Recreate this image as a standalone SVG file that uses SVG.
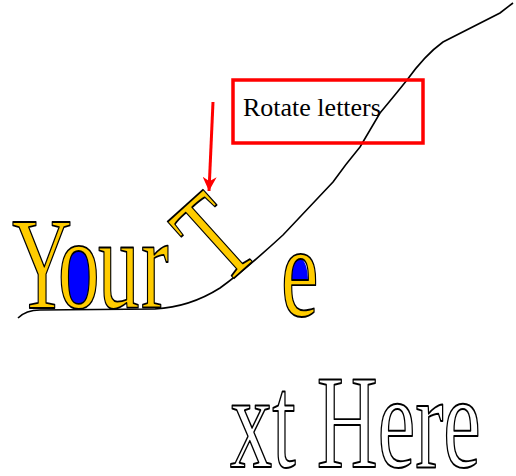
<svg xmlns="http://www.w3.org/2000/svg" width="516" height="476" viewBox="0 0 516 476">
<defs>
<style>
.wa{font-size:132px;fill:#FFCC00;stroke:#000;stroke-width:1.8;stroke-linejoin:round}
.out{font-size:134px;fill:#fff;stroke:#000;stroke-width:2;stroke-linejoin:round}
.lbl{font-size:26px;fill:#000}
.blue{fill:#0000FF}
</style>
<marker id="ah" markerWidth="14" markerHeight="14" refX="10" refY="5" orient="auto" markerUnits="userSpaceOnUse" viewBox="0 0 10 10">
<path d="M0,0 L10,5 L0,10 L3,5 Z" fill="#FF0000"/>
</marker>
</defs>
<rect width="516" height="476" fill="#fff"/>
<path id="curve" d="M18,318 Q26,310 40,310 L155,309 Q190,307 220,288 Q245,270 283,235 L333,182 Q345,165 360,147 L380,113 Q395,95 407,80 Q425,55 443,42 L500,13 L513,3" fill="none" stroke="#000" stroke-width="1.6"/>
<g id="word-your" font-family="'Liberation Serif', 'Times New Roman', serif">
<ellipse class="blue" cx="79" cy="279" rx="15" ry="30"/>
<text class="wa" transform="translate(12,308) scale(0.63,1)">Y</text>
<text class="wa" transform="translate(58,308) scale(0.63,1)">o</text>
<text class="wa" transform="translate(98,308) scale(0.63,1)">u</text>
<text class="wa" transform="translate(141,308) scale(0.63,1)">r</text>
</g>
<g id="letter-T" font-family="'Liberation Serif', 'Times New Roman', serif">
<text class="wa" text-anchor="middle" transform="translate(243,270) rotate(-42) scale(0.63,1)">T</text>
</g>
<g id="letter-e" font-family="'Liberation Serif', 'Times New Roman', serif">
<path class="blue" d="M285,283 Q285,257 296,257 Q308,257 308,283 Z"/>
<text class="wa" transform="translate(281,316) scale(0.64,1)">e</text>
</g>
<g id="text-here" font-family="'Liberation Serif', 'Times New Roman', serif">
<text class="out" transform="translate(230,467) scale(0.63,1)">xt Here</text>
</g>
<g id="label-box" font-family="'Liberation Serif', 'Times New Roman', serif">
<rect x="233" y="80" width="190" height="63" fill="none" stroke="#FF0000" stroke-width="3.5"/>
<text class="lbl" x="243" y="116">Rotate letters</text>
</g>
<g id="connectors">
<path d="M213,102 L209,191" fill="none" stroke="#FF0000" stroke-width="3" marker-end="url(#ah)"/>
</g>
</svg>
